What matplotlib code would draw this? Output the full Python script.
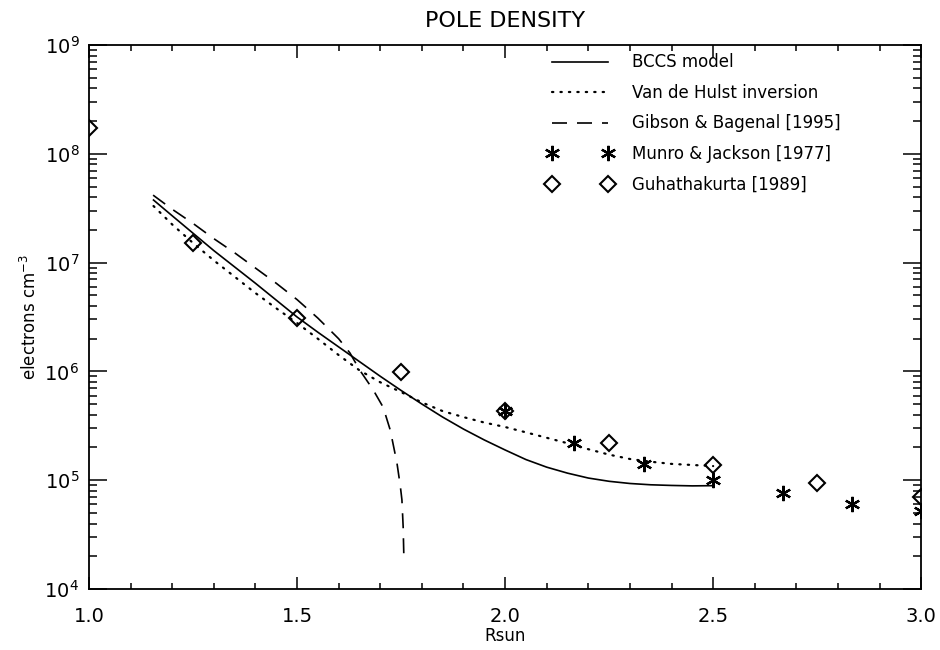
import numpy as np
import matplotlib
matplotlib.use("Agg")
import matplotlib.pyplot as plt
from matplotlib.ticker import MultipleLocator, LogLocator, NullFormatter

# BCCS model (solid), log10 density
bccs_r = [1.155, 1.2, 1.25, 1.3, 1.35, 1.4, 1.45, 1.5, 1.55, 1.6, 1.65, 1.7, 1.75,
          1.8, 1.85, 1.9, 1.95, 2.0, 2.05, 2.1, 2.15, 2.2, 2.25, 2.3, 2.35, 2.4, 2.45, 2.5]
bccs_log = [7.575, 7.43, 7.27, 7.11, 6.96, 6.81, 6.655, 6.50, 6.36, 6.225, 6.09, 5.955, 5.825,
            5.70, 5.58, 5.47, 5.37, 5.278, 5.19, 5.12, 5.065, 5.02, 4.99, 4.97, 4.958, 4.952, 4.948, 4.95]

# Van de Hulst inversion (dotted)
vdh_r = [1.155, 1.2, 1.25, 1.3, 1.35, 1.4, 1.45, 1.5, 1.55, 1.6, 1.65, 1.7, 1.75,
         1.8, 1.85, 1.9, 1.95, 2.0, 2.05, 2.1, 2.15, 2.2, 2.25, 2.3, 2.35, 2.4, 2.45, 2.5]
vdh_log = [7.52, 7.35, 7.18, 7.02, 6.87, 6.72, 6.58, 6.445, 6.30, 6.15, 6.01, 5.90, 5.81,
           5.715, 5.635, 5.58, 5.53, 5.489, 5.44, 5.39, 5.34, 5.285, 5.235, 5.195, 5.17, 5.15, 5.14, 5.13]

# Gibson & Bagenal [1995] (dashed)
gb_r = [1.154, 1.2, 1.25, 1.3, 1.35, 1.4, 1.45, 1.5, 1.55, 1.6, 1.627, 1.651, 1.683,
        1.707, 1.724, 1.74, 1.748, 1.752, 1.755, 1.757]
gb_log = [7.62, 7.49, 7.36, 7.22, 7.09, 6.95, 6.81, 6.66, 6.49, 6.30, 6.17, 6.01, 5.83,
          5.67, 5.46, 5.16, 4.95, 4.82, 4.57, 4.24]

# Munro & Jackson [1977] (asterisks)
mj_r = [2.0, 2.1667, 2.3333, 2.5, 2.6667, 2.8333, 3.0]
mj_n = [4.3e5, 2.2e5, 1.41e5, 1.0e5, 7.6e4, 6.0e4, 5.2e4]

# Guhathakurta [1989] (diamonds)
gu_r = [1.0, 1.25, 1.5, 1.75, 2.0, 2.25, 2.5, 2.75, 3.0]
gu_n = [1.73e8, 1.5e7, 3.1e6, 9.9e5, 4.3e5, 2.2e5, 1.38e5, 9.4e4, 7.0e4]

fig = plt.figure(figsize=(9.4, 6.5), dpi=100)
ax = fig.add_axes([0.0947, 0.0938, 0.8853, 0.837])

lw = 1.2
ax.plot(bccs_r, 10 ** np.array(bccs_log), color="black", lw=lw, label="BCCS model")
ax.plot(vdh_r, 10 ** np.array(vdh_log), color="black", lw=1.6, linestyle=(0, (0.6, 3.2)),
        dash_capstyle="round", label="Van de Hulst inversion")
ax.plot(gb_r, 10 ** np.array(gb_log), color="black", lw=lw, linestyle=(0, (9, 6)),
        label="Gibson & Bagenal [1995]")
ax.plot(mj_r, mj_n, linestyle="none", marker=(6, 2, 0), markersize=11, mew=1.6,
        color="black", label="Munro & Jackson [1977]")
ax.plot(gu_r, gu_n, linestyle="none", marker="D", markersize=8, mew=1.5,
        mfc="none", mec="black", label="Guhathakurta [1989]")

ax.set_yscale("log")
ax.set_xlim(1.0, 3.0)
ax.set_ylim(1e4, 1e9)

ax.xaxis.set_major_locator(MultipleLocator(0.5))
ax.xaxis.set_minor_locator(MultipleLocator(0.1))
ax.xaxis.set_major_formatter(plt.FuncFormatter(lambda v, p: f"{v:.1f}"))
ax.yaxis.set_major_locator(LogLocator(base=10, numticks=10))
ax.yaxis.set_minor_locator(LogLocator(base=10, subs=np.arange(2, 10), numticks=20))
ax.yaxis.set_minor_formatter(NullFormatter())

ax.tick_params(which="both", direction="in", top=True, right=True, width=1.1,
               labelsize=14, colors="black")
ax.tick_params(axis="x", which="major", length=9, pad=13)
ax.tick_params(axis="x", which="minor", length=4)
ax.tick_params(axis="y", which="major", length=13, pad=7)
ax.tick_params(axis="y", which="minor", length=6)
for s in ax.spines.values():
    s.set_linewidth(1.3)

ax.set_title("POLE DENSITY", fontsize=16, pad=13)
ax.set_xlabel("Rsun", fontsize=12, labelpad=1)
ax.set_ylabel("electrons cm$^{-3}$", fontsize=12, labelpad=3)

ax.legend(loc="upper left", bbox_to_anchor=(0.532, 1.012), frameon=False,
          numpoints=2, handlelength=4.0, handletextpad=1.1, fontsize=12,
          labelspacing=0.75)

fig.savefig("out.png", dpi=100)
